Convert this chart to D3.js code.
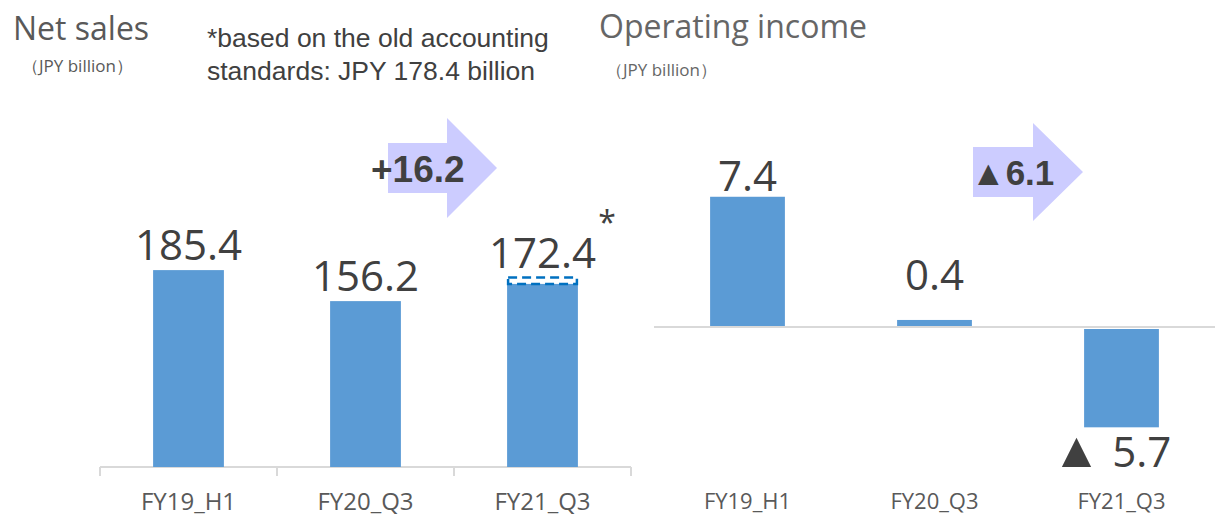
<!DOCTYPE html>
<html>
<head>
<meta charset="utf-8">
<script src="https://cdn.jsdelivr.net/npm/d3@7"></script>
<style>
  body { margin: 0; background: #fff; }
  svg { display: block; }
</style>
</head>
<body>
<div id="chart"></div>
<script>
// categories shared by both panels
const periods = ['FY19_H1', 'FY20_Q3', 'FY21_Q3'];

// net sales (JPY billion)
const netSales = [185.4, 156.2, 172.4];
const netSalesOldStd = 178.4; // FY21_Q3 under old accounting standards
const netSalesChange = '+16.2';

// operating income (JPY billion)
const opIncome = [7.4, 0.4, -5.7];
const opIncomeChange = '▲6.1';

const W = 1229, H = 520;
const barColor = '#5B9BD5';
const textColor = '#404040';
const axisColor = '#D9D9D9';
const arrowColor = '#CCCCFF';
const font = "'Open Sans', sans-serif";
const arial = "'Liberation Sans', Arial, sans-serif";

const svg = d3.select('#chart').append('svg')
  .attr('width', W)
  .attr('height', H);

//Value label: negatives get the Japanese style triangle in front
function valueLabel(sel) {
  sel.each(function(d) {
    const t = d3.select(this);
    if (d < 0) {
      t.append('tspan').style('font-size', '50px').text('▲');
      t.append('tspan').text(' ' + Math.abs(d).toFixed(1));
    } else {
      t.text(d.toFixed(1));
    }
  });
}

//Draws a block arrow: body + head, tip pointing right
function blockArrow(g, x0, x1, x2, yMid, bodyH, headH) {
  const pts = [
    [x0, yMid - bodyH / 2], [x1, yMid - bodyH / 2], [x1, yMid - headH / 2],
    [x2, yMid], [x1, yMid + headH / 2], [x1, yMid + bodyH / 2], [x0, yMid + bodyH / 2]
  ];
  g.append('path')
    .attr('d', d3.line()(pts) + 'Z')
    .attr('fill', arrowColor);
}

// ---------- Net sales ----------
const xL = d3.scaleBand().domain(periods).range([100, 631]).paddingInner(0.6).paddingOuter(0.3);
const yL = d3.scaleLinear().domain([0, 200]).range([467, 467 - 200 * 1.062]);

const left = svg.append('g').attr('class', 'net-sales');

left.append('text')
  .attr('x', 13).attr('y', 40)
  .style('font-family', font).style('font-size', '32px')
  .attr('fill', '#595959')
  .text('Net sales');

left.append('text')
  .attr('x', 22).attr('y', 72)
  .style('font-family', font).style('font-size', '17px')
  .attr('fill', '#595959')
  .text('（JPY billion）');

const note = left.append('text')
  .style('font-family', arial)
  .style('font-size', '26.5px')
  .attr('fill', textColor);
note.append('tspan').attr('x', 207).attr('y', 47).text('*based on the old accounting');
note.append('tspan').attr('x', 207).attr('y', 80).text('standards: JPY 178.4 billion');

// axis line with ticks at category boundaries
const axL = left.append('g').attr('transform', 'translate(0,' + yL(0) + ')');
axL.append('line')
  .attr('x1', 100).attr('x2', 631)
  .attr('stroke', axisColor).attr('stroke-width', 2);
const bounds = [100].concat(periods.map(p => xL(p) + xL.bandwidth() + xL.step() * 0.3));
axL.selectAll('.tick')
  .data(bounds)
  .enter().append('line')
  .attr('x1', d => d).attr('x2', d => d)
  .attr('y1', 0).attr('y2', 9)
  .attr('stroke', axisColor).attr('stroke-width', 2);

left.selectAll('.bar')
  .data(netSales)
  .enter().append('rect')
  .attr('class', 'bar')
  .attr('x', (d, i) => xL(periods[i]))
  .attr('y', d => yL(d))
  .attr('width', xL.bandwidth())
  .attr('height', d => yL(0) - yL(d))
  .attr('fill', barColor);

// dashed outline showing the old-standards figure
left.append('rect')
  .attr('x', xL(periods[2]) + 1)
  .attr('y', yL(netSalesOldStd))
  .attr('width', xL.bandwidth() - 2)
  .attr('height', yL(netSales[2]) - yL(netSalesOldStd))
  .attr('fill', 'none')
  .attr('stroke', '#0070C0')
  .attr('stroke-width', 2.5)
  .attr('stroke-dasharray', '9,5');

left.selectAll('.val')
  .data(netSales)
  .enter().append('text')
  .attr('class', 'val')
  .attr('x', (d, i) => xL(periods[i]) + xL.bandwidth() / 2)
  .attr('y', (d, i) => (i === 2 ? yL(netSalesOldStd) : yL(d)) - 10)
  .attr('text-anchor', 'middle')
  .style('font-family', font).style('font-size', '42px')
  .attr('fill', textColor)
  .call(valueLabel);

left.append('text')
  .attr('x', 607).attr('y', 234)
  .attr('text-anchor', 'middle')
  .style('font-family', font).style('font-size', '32px')
  .attr('fill', textColor)
  .text('*');

left.selectAll('.cat')
  .data(periods)
  .enter().append('text')
  .attr('class', 'cat')
  .attr('x', d => xL(d) + xL.bandwidth() / 2)
  .attr('y', 510)
  .attr('text-anchor', 'middle')
  .style('font-family', font).style('font-size', '24px')
  .attr('fill', '#595959')
  .text(d => d);

blockArrow(left, 388, 447, 497, 168, 50, 100);
left.append('text')
  .attr('x', 371).attr('y', 182)
  .style('font-family', arial)
  .style('font-size', '37px').style('font-weight', 'bold')
  .attr('fill', textColor)
  .text(netSalesChange);

// ---------- Operating income ----------
const xR = d3.scaleBand().domain(periods).range([654, 1215]).paddingInner(0.6).paddingOuter(0.3);
const yR = d3.scaleLinear().domain([-8, 8]).range([327 + 8 * 17.6, 327 - 8 * 17.6]);

const right = svg.append('g').attr('class', 'op-income');

right.append('text')
  .attr('x', 599).attr('y', 38)
  .style('font-family', font).style('font-size', '32px')
  .attr('fill', '#666666')
  .text('Operating income');

right.append('text')
  .attr('x', 606).attr('y', 76)
  .style('font-family', font).style('font-size', '17px')
  .attr('fill', '#666666')
  .text('（JPY billion）');

right.append('line')
  .attr('x1', 654).attr('x2', 1215)
  .attr('y1', yR(0)).attr('y2', yR(0))
  .attr('stroke', axisColor).attr('stroke-width', 2);

right.selectAll('.bar')
  .data(opIncome)
  .enter().append('rect')
  .attr('class', 'bar')
  .attr('x', (d, i) => xR(periods[i]))
  .attr('y', d => d >= 0 ? yR(d) : yR(0) + 2)
  .attr('width', xR.bandwidth())
  .attr('height', d => d >= 0 ? yR(0) - yR(d) - 1 : yR(d) - yR(0) - 2)
  .attr('fill', barColor);

right.selectAll('.val')
  .data(opIncome)
  .enter().append('text')
  .attr('class', 'val')
  .attr('x', (d, i) => xR(periods[i]) + xR.bandwidth() / 2 + (d < 0 ? -10 : 0))
  .attr('y', d => d >= 0 ? Math.min(yR(d) - 6, 290) : yR(d) + 40)
  .attr('text-anchor', 'middle')
  .style('font-family', font).style('font-size', '42px')
  .attr('fill', textColor)
  .call(valueLabel);

right.selectAll('.cat')
  .data(periods)
  .enter().append('text')
  .attr('class', 'cat')
  .attr('x', d => xR(d) + xR.bandwidth() / 2)
  .attr('y', 509)
  .attr('text-anchor', 'middle')
  .style('font-family', font).style('font-size', '22px')
  .attr('fill', '#595959')
  .text(d => d);

blockArrow(right, 973, 1033, 1083, 172, 50, 98);
right.append('text')
  .attr('x', 971).attr('y', 185)
  .style('font-family', arial)
  .style('font-size', '35px').style('font-weight', 'bold')
  .attr('fill', textColor)
  .text(opIncomeChange);
</script>
</body>
</html>
